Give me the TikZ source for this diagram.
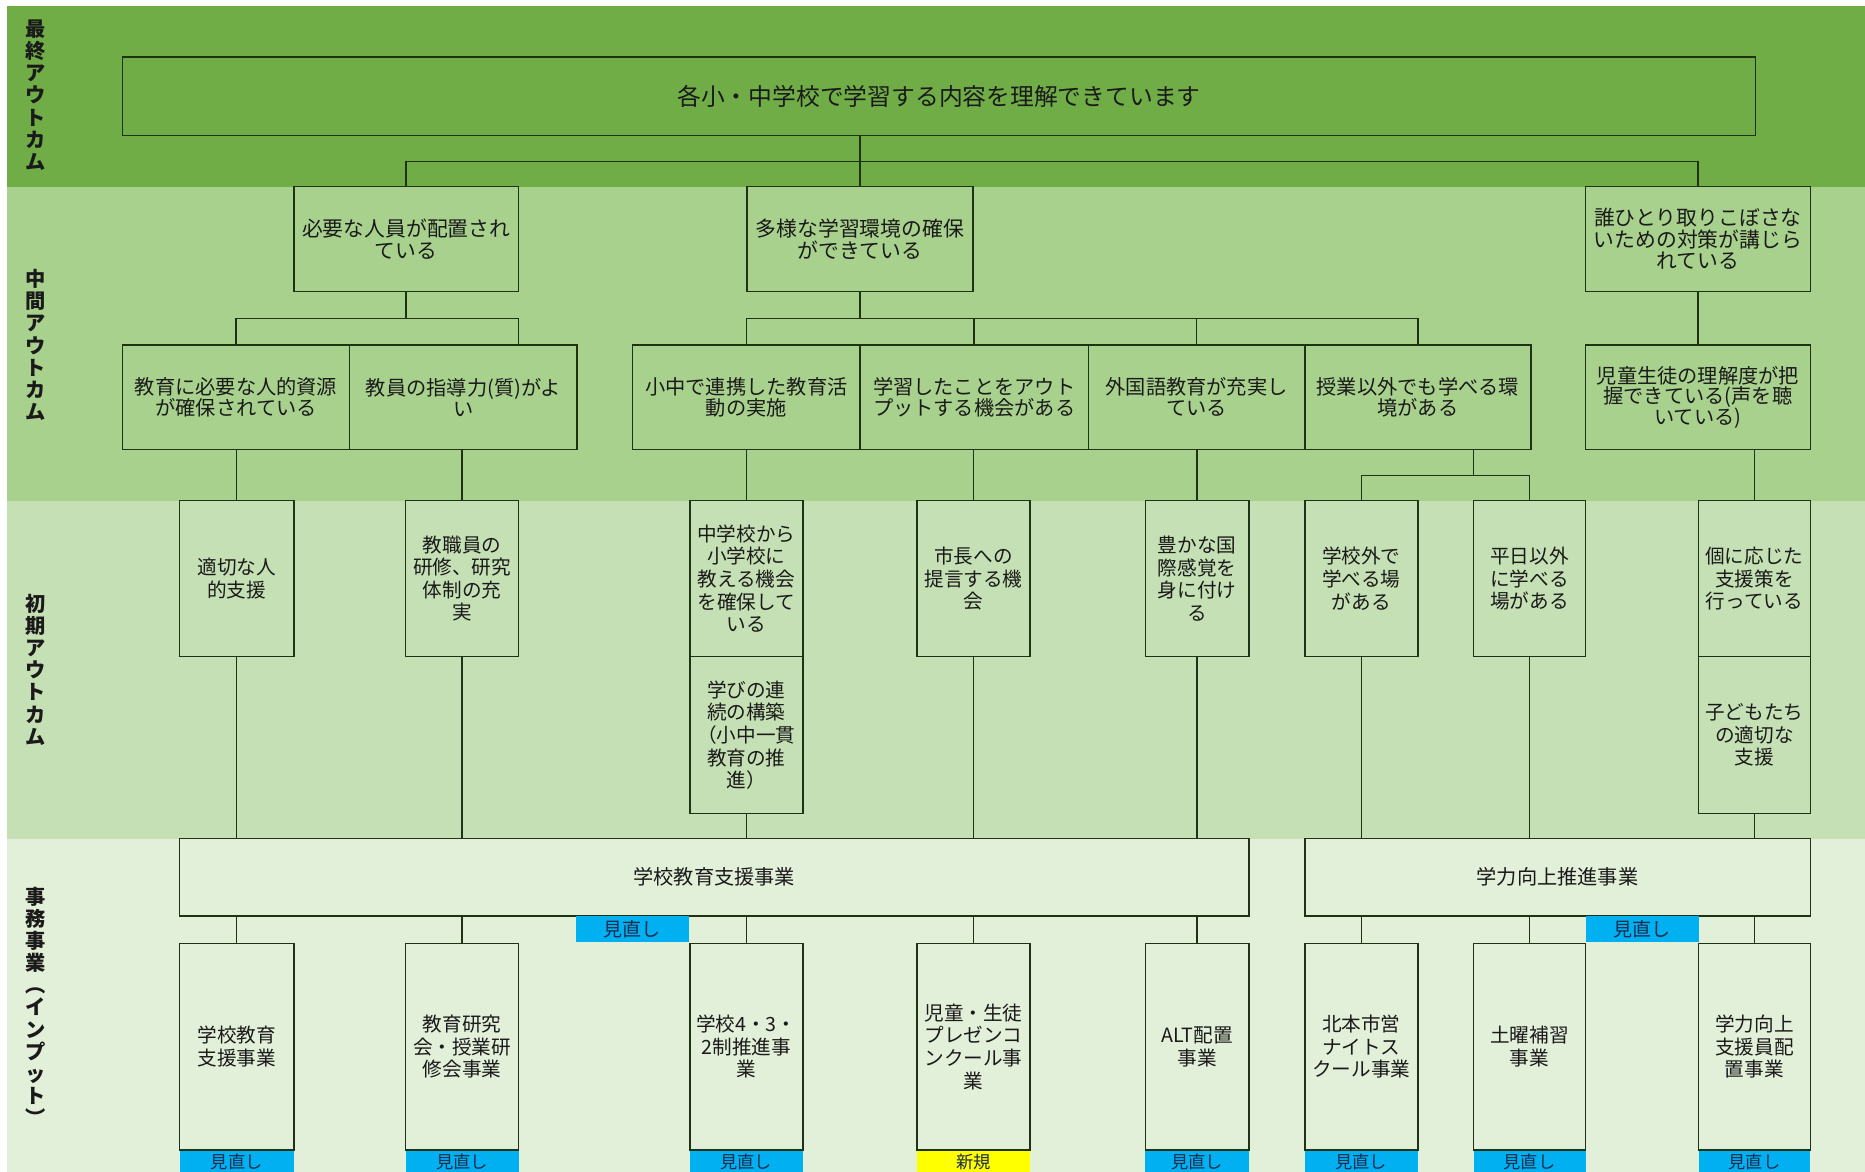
\documentclass[tikz,border=0pt]{standalone}
\usepackage{fontspec}
\setmainfont{Noto Sans CJK JP}
\definecolor{bandA}{HTML}{70AD47}
\definecolor{bandB}{HTML}{A9D18E}
\definecolor{bandC}{HTML}{C5E0B4}
\definecolor{bandD}{HTML}{E2EFD9}
\definecolor{edge}{HTML}{1E3314}
\definecolor{tagblue}{HTML}{00B0F0}
\definecolor{tagyellow}{HTML}{FFFF00}
\definecolor{ink}{HTML}{1A1A1A}
\definecolor{tagink}{HTML}{1A2B4C}
\begin{document}
\begin{tikzpicture}[x=1pt,y=-1pt,
  bx/.style 2 args={draw=edge, line width=1.2pt, inner sep=2pt, align=center, text=ink,
     minimum width=#1pt, minimum height=#2pt},
  fA/.style={font=\fontsize{17.5}{18}\selectfont},
  fB/.style={font=\fontsize{17}{17.5}\selectfont},
  fC/.style={font=\fontsize{16.5}{19}\selectfont},
  ln/.style={draw=edge, line width=1.2pt},
  tagbox/.style 2 args={inner sep=0pt, text=tagink, font=\fontsize{16}{16}\selectfont,
     minimum width=#1pt, minimum height=#2pt},
  btag/.style={font=\fontsize{14.5}{15}\selectfont, anchor=north},
  lab/.style={align=center, inner sep=0pt, text=ink, font=\bfseries\fontsize{17}{18.6}\selectfont}]
\useasboundingbox (0,0) rectangle (1568,985);
\clip (0,0) rectangle (1568,985);
\fill[white] (0,0) rectangle (1568,985);
\fill[bandA] (6,5) rectangle (1568,157);
\fill[bandB] (6,157) rectangle (1568,421);
\fill[bandC] (6,421) rectangle (1568,705);
\fill[bandD] (6,705) rectangle (1568,985);

% side labels
\node[lab] (lab1) at (30,80) {最\\終\\ア\\ウ\\ト\\カ\\ム};
\node[lab] (lab2) at (30,290) {中\\間\\ア\\ウ\\ト\\カ\\ム};
\node[lab] (lab3) at (30,563) {初\\期\\ア\\ウ\\ト\\カ\\ム};
\node[lab] (lab4) at (30,846) {事\\務\\事\\業\\︵\\イ\\ン\\プ\\ッ\\ト\\︶};

% final outcome
\node[bx={1373}{66}, font=\fontsize{20}{22}\selectfont] (top) at (789.5,81) {各小・中学校で学習する内容を理解できています};

% intermediate row 1
\node[bx={189}{88}, fA] (A) at (341.5,201) {必要な人員が配置され\\ている};
\node[bx={190}{88}, fA] (B) at (723,201) {多様な学習環境の確保\\ができている};
\node[bx={189}{88}, fA] (C) at (1427.5,201) {誰ひとり取りこぼさな\\いための対策が講じら\\れている};

% intermediate row 2
\node[bx={191}{88}, fB] (D) at (198.5,334) {教育に必要な人的資源\\が確保されている};
\node[bx={191}{88}, fB] (E) at (389.5,334) {教員の指導力(質)がよ\\い};
\node[bx={191}{88}, fB] (F) at (627.5,334) {小中で連携した教育活\\動の実施};
\node[bx={192}{88}, fB] (G) at (819,334) {学習したことをアウト\\プットする機会がある};
\node[bx={182}{88}, fB] (H) at (1006,334) {外国語教育が充実し\\ている};
\node[bx={190}{88}, fB] (I) at (1192,334) {授業以外でも学べる環\\境がある};
\node[bx={189}{88}, fB] (J) at (1427.5,334) {児童生徒の理解度が把\\握できている(声を聴\\いている)};

% initial outcomes
\node[bx={96}{131}, fC] (K) at (199,486.5) {適切な人\\的支援};
\node[bx={95}{131}, fC] (L) at (388.5,486.5) {教職員の\\研修、研究\\体制の充\\実};
\node[bx={95}{131}, fC] (M) at (627.5,486.5) {中学校から\\小学校に\\教える機会\\を確保して\\いる};
\node[bx={95}{132}, fC] (M2) at (627.5,618) {学びの連\\続の構築\\（小中一貫\\教育の推\\進）};
\node[bx={95}{131}, fC] (N) at (818.5,486.5) {市長への\\提言する機\\会};
\node[bx={87}{131}, fC] (O) at (1006.5,486.5) {豊かな国\\際感覚を\\身に付け\\る};
\node[bx={95}{131}, fC] (P) at (1144.5,486.5) {学校外で\\学べる場\\がある};
\node[bx={94}{131}, fC] (Q) at (1286,486.5) {平日以外\\に学べる\\場がある};
\node[bx={94}{131}, fC] (R) at (1475,486.5) {個に応じた\\支援策を\\行っている};
\node[bx={94}{132}, fC] (R2) at (1475,618) {子どもたち\\の適切な\\支援};

% programmes
\node[bx={899}{65}, fB] (S) at (600.5,737.5) {学校教育支援事業};
\node[bx={425}{65}, fB] (T) at (1309.5,737.5) {学力向上推進事業};

\node[bx={96}{174}, fC] (U) at (199,880) {学校教育\\支援事業};
\node[bx={95}{174}, fC] (V) at (388.5,880) {教育研究\\会・授業研\\修会事業};
\node[bx={95}{174}, fC] (W) at (627.5,880) {学校4・3・\\2制推進事\\業};
\node[bx={95}{174}, fC] (X) at (818.5,880) {児童・生徒\\プレゼンコ\\ンクール事\\業};
\node[bx={87}{174}, fC] (Y) at (1006.5,880) {ALT配置\\事業};
\node[bx={95}{174}, fC] (Z) at (1144.5,880) {北本市営\\ナイトス\\クール事業};
\node[bx={94}{174}, fC] (AA) at (1286,880) {土曜補習\\事業};
\node[bx={94}{174}, fC] (AB) at (1475,880) {学力向上\\支援員配\\置事業};

% tags
\node[tagbox={95}{22}, fill=tagblue] (tS) at (531.5,781) {見直し};
\node[tagbox={95}{22}, fill=tagblue] (tT) at (1380.5,781) {見直し};
\node[tagbox={96}{18}, fill=tagblue, btag] (tU) at (U.south) {見直し};
\node[tagbox={95}{18}, fill=tagblue, btag] (tV) at (V.south) {見直し};
\node[tagbox={95}{18}, fill=tagblue, btag] (tW) at (W.south) {見直し};
\node[tagbox={95}{18}, fill=tagyellow, btag] (tX) at (X.south) {新規};
\node[tagbox={87}{18}, fill=tagblue, btag] (tY) at (Y.south) {見直し};
\node[tagbox={95}{18}, fill=tagblue, btag] (tZ) at (Z.south) {見直し};
\node[tagbox={94}{18}, fill=tagblue, btag] (tAA) at (AA.south) {見直し};
\node[tagbox={94}{18}, fill=tagblue, btag] (tAB) at (AB.south) {見直し};

% connectors: final -> row 1
\coordinate (j0) at (723,136);
\draw[ln] (top.south -| j0) -- (j0) -- (B.north);
\draw[ln] (A.north) -- (A.north |- j0) -- (C.north |- j0) -- (C.north);

% row 1 -> row 2
\coordinate (jA) at (436,268);
\draw[ln] (A.south) -- (A.south |- jA);
\draw[ln] (D.north) -- (D.north |- jA) -- (jA) -- (jA |- E.north);
\coordinate (jB) at (723,268);
\draw[ln] (B.south) -- (jB);
\draw[ln] (F.north) -- (F.north |- jB) -- (I.north |- jB) -- (I.north);
\draw[ln] (G.north |- jB) -- (G.north);
\draw[ln] (H.north |- jB) -- (H.north);
\draw[ln] (C.south) -- (J.north);

% row 2 -> initial
\draw[ln] (K.north |- D.south) -- (K.north);
\draw[ln] (L.north |- E.south) -- (L.north);
\draw[ln] (M.north |- F.south) -- (M.north);
\draw[ln] (N.north |- G.south) -- (N.north);
\draw[ln] (O.north |- H.south) -- (O.north);
\coordinate (jI) at (1239,400);
\draw[ln] (jI |- I.south) -- (jI);
\draw[ln] (P.north) -- (P.north |- jI) -- (Q.north |- jI) -- (Q.north);
\draw[ln] (R.north |- J.south) -- (R.north);

% initial -> programmes
\draw[ln] (K.south) -- (K.south |- S.north);
\draw[ln] (L.south) -- (L.south |- S.north);
\draw[ln] (M2.south) -- (M2.south |- S.north);
\draw[ln] (N.south) -- (N.south |- S.north);
\draw[ln] (O.south) -- (O.south |- S.north);
\draw[ln] (P.south) -- (P.south |- T.north);
\draw[ln] (Q.south) -- (Q.south |- T.north);
\draw[ln] (R2.south) -- (R2.south |- T.north);

% programmes -> projects
\draw[ln] (U.north |- S.south) -- (U.north);
\draw[ln] (V.north |- S.south) -- (V.north);
\draw[ln] (W.north |- S.south) -- (W.north);
\draw[ln] (X.north |- S.south) -- (X.north);
\draw[ln] (Y.north |- S.south) -- (Y.north);
\draw[ln] (Z.north |- T.south) -- (Z.north);
\draw[ln] (AA.north |- T.south) -- (AA.north);
\draw[ln] (AB.north |- T.south) -- (AB.north);
\end{tikzpicture}
\end{document}
